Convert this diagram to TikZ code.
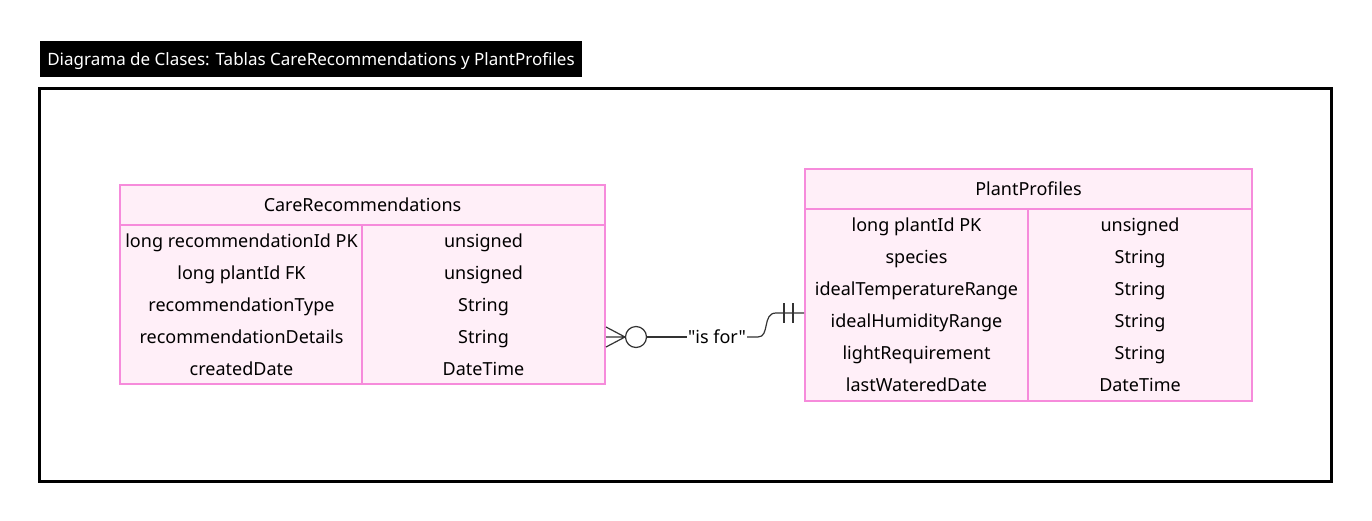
\documentclass[tikz,border=0pt]{standalone}
\usepackage{fontspec}
\setmainfont{Noto Sans}[Ligatures=TeXOff]
\usetikzlibrary{calc}
\definecolor{tfill}{HTML}{FFEFF8}
\definecolor{tline}{HTML}{F68BDB}
\definecolor{conn}{HTML}{333333}
\begin{document}
\begin{tikzpicture}[x=1pt,y=-1pt,
  tbl/.style={draw=tline,fill=tfill,line width=2pt,inner sep=0pt},
  cell/.style={inner sep=0pt,font=\fontsize{18}{21}\selectfont,text=black,anchor=base},
  conline/.style={draw=conn,line width=1.2pt}]
\useasboundingbox (0,0) rectangle (1372,520);
\fill[white] (0,0) rectangle (1372,520);
% title
\node[fill=black,inner sep=0pt,minimum width=542pt,minimum height=36pt] (title) at (311,59) {};
\node[text=white,inner sep=0pt,anchor=base,font=\fontsize{17}{20}\selectfont] (titletext) at (311,65) {Diagrama de Clases: Tablas CareRecommendations y PlantProfiles};
% frame
\node[draw=black,line width=3pt,minimum width=1292pt,minimum height=393pt,inner sep=0pt] (frame) at (685,284.5) {};
% CareRecommendations
\node[tbl,minimum width=485pt,minimum height=199pt] (cr) at (362.5,284.5) {};
\draw[tline,line width=2pt] (120,225) -- (605,225) (362,225) -- (362,384);
\node[cell] (crh) at (362.5,211) {CareRecommendations};
\foreach \i/\a/\b in {1/long recommendationId PK/unsigned,2/long plantId FK/unsigned,3/recommendationType/String,4/recommendationDetails/String,5/createdDate/DateTime}{
  \node[cell] (cra\i) at (241.5,215+32*\i) {\a};
  \node[cell] (crb\i) at (483.5,215+32*\i) {\b};
}
% PlantProfiles
\node[tbl,minimum width=447pt,minimum height=232pt] (pp) at (1028.5,285) {};
\draw[tline,line width=2pt] (805,209) -- (1252,209) (1028,209) -- (1028,401);
\node[cell] (pph) at (1028.5,195) {PlantProfiles};
\foreach \i/\a/\b in {1/long plantId PK/unsigned,2/species/String,3/idealTemperatureRange/String,4/idealHumidityRange/String,5/lightRequirement/String,6/lastWateredDate/DateTime}{
  \node[cell] (ppa\i) at (916.5,199+32*\i) {\a};
  \node[cell] (ppb\i) at (1140,199+32*\i) {\b};
}
% connector
\coordinate (cs) at (cr.east |- 0,337);
\coordinate (ce) at (pp.west |- 0,313);
\coordinate (tip) at (625,337);
\node[draw=conn,line width=1.2pt,circle,minimum size=21pt,inner sep=0pt] (circ) at (636,337) {};
\node[inner sep=1pt,font=\fontsize{18}{21}\selectfont] (lbl) at (717,337) {"is for"};
\draw[conline] ($(cs)+(0,-10)$) -- (tip) ($(cs)+(0,10)$) -- (tip) (cs) -- (circ.west);
\draw[conline] (circ.east) -- (lbl.west);
\draw[conline] (lbl.east) -- (758,337) .. controls (770,337) and (762,313) .. (776,313) -- (ce);
\draw[conline] (784,303) -- (784,323) (793,303) -- (793,323);
\end{tikzpicture}
\end{document}
